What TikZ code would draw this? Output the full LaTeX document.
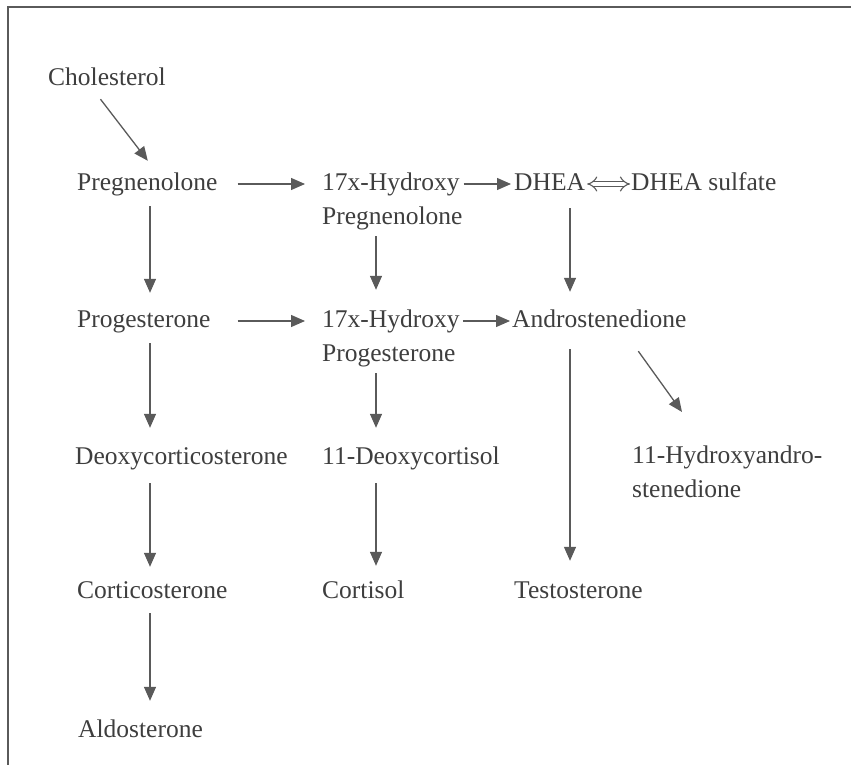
\documentclass[tikz,border=0pt]{standalone}
\usepackage{fontspec}
\setmainfont{Liberation Serif}
\usetikzlibrary{arrows.meta,calc}
\definecolor{ink}{RGB}{62,62,62}
\definecolor{wire}{RGB}{90,90,90}
\begin{document}
\begin{tikzpicture}[x=1pt,y=-1pt,
  lbl/.style={anchor=base west,inner sep=0pt,text height=18pt,text depth=6pt,
    text=ink,font=\fontsize{25.5}{34}\selectfont},
  lbl2/.style={lbl,align=left,text height=52pt},
  arr/.style={draw=wire,line width=1.3pt,-{Triangle[length=14pt,width=12pt]}},
  dbl/.style={draw=wire,double,double distance=4.2pt,line width=1.1pt,{Implies}-{Implies}},
  frameline/.style={draw=wire,line width=2pt}]
\useasboundingbox (0,0) rectangle (851,765);
\draw[frameline] (8,765) -- (8,7) -- (851,7);

\coordinate (k1) at (150,0);
\coordinate (k2) at (376,0);
\coordinate (k3) at (570,0);

\node[lbl] (chol) at (48,86) {Cholesterol};
\node[lbl] (preg) at (77,190) {Pregnenolone};
\node[lbl2] (ohpreg) at (322,224) {17x-Hydroxy\\Pregnenolone};
\node[lbl] (dhea) at (514,190) {DHEA};
\node[lbl] (dheas) at (631,190) {DHEA sulfate};
\node[lbl] (prog) at (77,327) {Progesterone};
\node[lbl2] (ohprog) at (322,361) {17x-Hydroxy\\Progesterone};
\node[lbl] (andro) at (512,327) {Androstenedione};
\node[lbl] (doc) at (75,464) {Deoxycorticosterone};
\node[lbl] (dcort) at (322,464) {11-Deoxycortisol};
\node[lbl2] (ohandro) at (632,497) {11-Hydroxyandro-\\stenedione};
\node[lbl] (cortico) at (77,598) {Corticosterone};
\node[lbl] (cortisol) at (322,598) {Cortisol};
\node[lbl] (testo) at (514,598) {Testosterone};
\node[lbl] (aldo) at (78,737) {Aldosterone};

% diagonal
\draw[arr] ($(chol.south)+(-6.5,7)$) -- ($(preg.north)+(0.5,-11)$);
\draw[arr] ($(andro.south)+(39,18)$) -- ($(ohandro.base west)+(50,-85)$);

% horizontal
\draw[arr,shorten <=20pt,shorten >=17pt] (preg.east) -- (preg.east -| ohpreg.west);
\draw[arr,shorten <=1pt,shorten >=3pt] (dhea.west -| ohpreg.east) -- (dhea.west);
\draw[dbl,shorten <=2pt,shorten >=1pt] (dhea.east) -- (dheas.west);
\draw[arr,shorten <=27pt,shorten >=17pt] (prog.east) -- (prog.east -| ohprog.west);
\draw[arr,shorten <=3pt,shorten >=2pt] (andro.west -| ohprog.east) -- (andro.west);

% vertical
\draw[arr,shorten <=10pt,shorten >=16pt] (preg.south -| k1) -- (prog.north -| k1);
\draw[arr,shorten <=10pt,shorten >=18pt] (prog.south -| k1) -- (doc.north -| k1);
\draw[arr,shorten <=13pt,shorten >=13pt] (doc.south -| k1) -- (cortico.north -| k1);
\draw[arr,shorten <=9pt,shorten >=18pt] (cortico.south -| k1) -- (aldo.north -| k1);
\draw[arr,shorten <=6pt,shorten >=19pt] (ohpreg.south -| k2) -- (ohprog.north -| k2);
\draw[arr,shorten <=6pt,shorten >=18pt] (ohprog.south -| k2) -- (dcort.north -| k2);
\draw[arr,shorten <=13pt,shorten >=14pt] (dcort.south -| k2) -- (cortisol.north -| k2);
\draw[arr,shorten <=12pt,shorten >=17pt] (dhea.south -| k3) -- (andro.north -| k3);
\draw[arr,shorten <=16pt,shorten >=19pt] (andro.south -| k3) -- (testo.north -| k3);
\end{tikzpicture}
\end{document}
